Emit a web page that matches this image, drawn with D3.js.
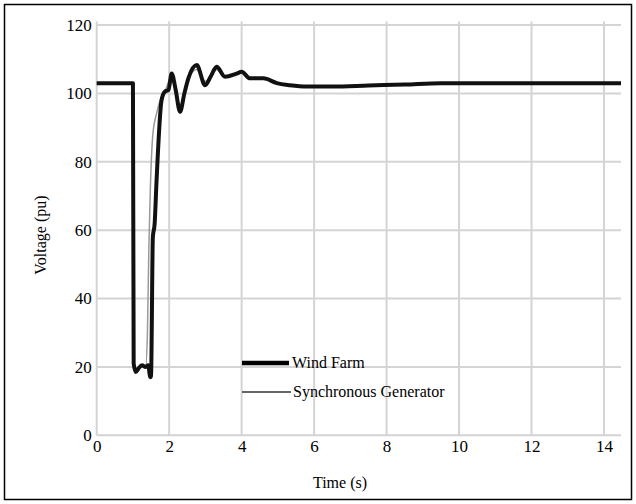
<!DOCTYPE html>
<html>
<head>
<meta charset="utf-8">
<script src="https://cdn.jsdelivr.net/npm/d3@7"></script>
<style>
  body { margin: 0; background: #fff; }
  svg text { font-family: "Liberation Serif", "Times New Roman", serif; fill: #000; }
</style>
</head>
<body>
<div id="chart"></div>
<script>
/* données */
let xTicks = [0, 2, 4, 6, 8, 10, 12, 14];
let yTicks = [0, 20, 40, 60, 80, 100, 120];

let windTime = [0, 1.0, 1.02, 1.08, 1.15, 1.25, 1.35, 1.42, 1.48, 1.5, 1.55, 1.6, 1.65, 1.79, 1.88, 1.98, 2.07, 2.18, 2.3, 2.42, 2.53, 2.76, 2.99, 3.15, 3.31, 3.54, 3.86, 4.0, 4.23, 4.6, 4.97, 5.33, 5.8, 6.5, 7.5, 8.5, 9.5, 14.47];
let windVolt = [103, 103, 21, 18.5, 19.5, 20.5, 20, 20.5, 17, 17.5, 58, 62, 74, 98, 100.5, 101, 105.8, 101, 94.6, 100, 104.4, 108.3, 102.4, 105, 107.8, 104.9, 105.8, 106.3, 104.4, 104.4, 103, 102.4, 102, 102, 102.3, 102.6, 103, 103];

let syncTime = [0, 1.0, 1.02, 1.08, 1.2, 1.35, 1.4, 1.44, 1.48, 1.55, 1.65, 1.75, 1.9, 2.05, 2.3, 2.5, 2.75, 3.0, 3.3, 3.55, 3.9, 4.0, 4.23, 4.6, 4.97, 5.33, 5.8, 6.5, 7.5, 8.5, 9.5, 14.47];
let syncVolt = [103, 103, 21, 19, 20, 20, 30, 55, 72, 88, 94, 98, 101, 104.5, 96.5, 103.5, 107, 103.5, 107, 105, 105.8, 106, 104.4, 104.4, 103, 102.4, 102, 102, 102.3, 102.6, 103, 103];

let seriesNames = ['Wind Farm', 'Synchronous Generator'];

/*** GRAPH ***/
let width = 636,
    height = 504;

let svgContainer = d3.select('#chart').
append('svg').
attr('width', width).
attr('height', height);

/* cadre extérieur */
svgContainer.append('rect').
attr('x', 4.5).
attr('y', 4.5).
attr('width', 627).
attr('height', 495).
style('fill', 'none').
style('stroke', '#000').
style('stroke-width', 1.5);

let xScale = d3.scaleLinear().
domain([0, 14.47]).
range([96.7, 621]);

let yScale = d3.scaleLinear().
domain([0, 120]).
range([435.3, 25]);

/* grille */
let grid = svgContainer.append('g').attr('class', 'grid');

grid.selectAll('.hgrid').
data(yTicks).
enter().
append('line').
attr('class', 'hgrid').
attr('x1', xScale(0)).
attr('x2', xScale(14.47)).
attr('y1', (d) => yScale(d)).
attr('y2', (d) => yScale(d)).
style('stroke', '#d4d4d4').
style('stroke-width', 2);

grid.selectAll('.vgrid').
data(xTicks).
enter().
append('line').
attr('class', 'vgrid').
attr('x1', (d) => xScale(d)).
attr('x2', (d) => xScale(d)).
attr('y1', yScale(121)).
attr('y2', yScale(0)).
style('stroke', '#d4d4d4').
style('stroke-width', 2);

/* axes (texte seulement) */
let xAxis = d3.axisBottom(xScale).
tickValues(xTicks).
tickSize(0).
tickPadding(5);

let xAxisGroup = svgContainer.append('g').
attr('id', 'x-axis').
attr('transform', 'translate(0,' + yScale(0) + ')').
call(xAxis);

let yAxis = d3.axisLeft(yScale).
tickValues(yTicks).
tickSize(0).
tickPadding(5);

let yAxisGroup = svgContainer.append('g').
attr('id', 'y-axis').
attr('transform', 'translate(' + xScale(0) + ',0)').
call(yAxis);

svgContainer.selectAll('.domain').remove();
xAxisGroup.attr('font-family', '"Liberation Serif", serif').attr('font-size', 17);
yAxisGroup.attr('font-family', '"Liberation Serif", serif').attr('font-size', 17);
svgContainer.selectAll('.tick text').
style('font-family', '"Liberation Serif", serif').
style('font-size', '17px').
style('fill', '#000');

/* titres des axes */
svgContainer.append('text').
attr('transform', 'rotate(-90)').
attr('x', -235).
attr('y', 46).
attr('text-anchor', 'middle').
style('font-size', '16px').
text('Voltage (pu)');

svgContainer.append('text').
attr('x', 340).
attr('y', 488).
attr('text-anchor', 'middle').
style('font-size', '16px').
text('Time (s)');

/* courbes */
let line = d3.line().
curve(d3.curveMonotoneX).
x((d) => xScale(d[0])).
y((d) => yScale(d[1]));

let syncData = syncTime.map((t, i) => [t, syncVolt[i]]);
let windData = windTime.map((t, i) => [t, windVolt[i]]);

svgContainer.append('path').
datum(syncData).
attr('d', line).
style('fill', 'none').
style('stroke', '#9a9a9a').
style('stroke-width', 1.5).
style('stroke-linejoin', 'round');

svgContainer.append('path').
datum(windData).
attr('d', line).
style('fill', 'none').
style('stroke', '#111').
style('stroke-width', 4).
style('stroke-linejoin', 'round');

/* légende */
let legendStyles = [
  { w: 4.5, c: '#000', y: 363 },
  { w: 1.5, c: '#333', y: 392 }
];

let legend = svgContainer.selectAll('.legend').
data(seriesNames).
enter().
append('g').
attr('class', 'legend').
attr('transform', (d, i) => 'translate(242,' + legendStyles[i].y + ')');

legend.append('line').
attr('x1', 0).
attr('x2', (d, i) => i === 0 ? 47 : 49).
attr('y1', 0).
attr('y2', 0).
style('stroke', (d, i) => legendStyles[i].c).
style('stroke-width', (d, i) => legendStyles[i].w);

legend.append('text').
attr('x', (d, i) => i === 0 ? 50 : 51).
attr('y', 5).
style('font-size', '16px').
text((d) => d);
</script>
</body>
</html>
